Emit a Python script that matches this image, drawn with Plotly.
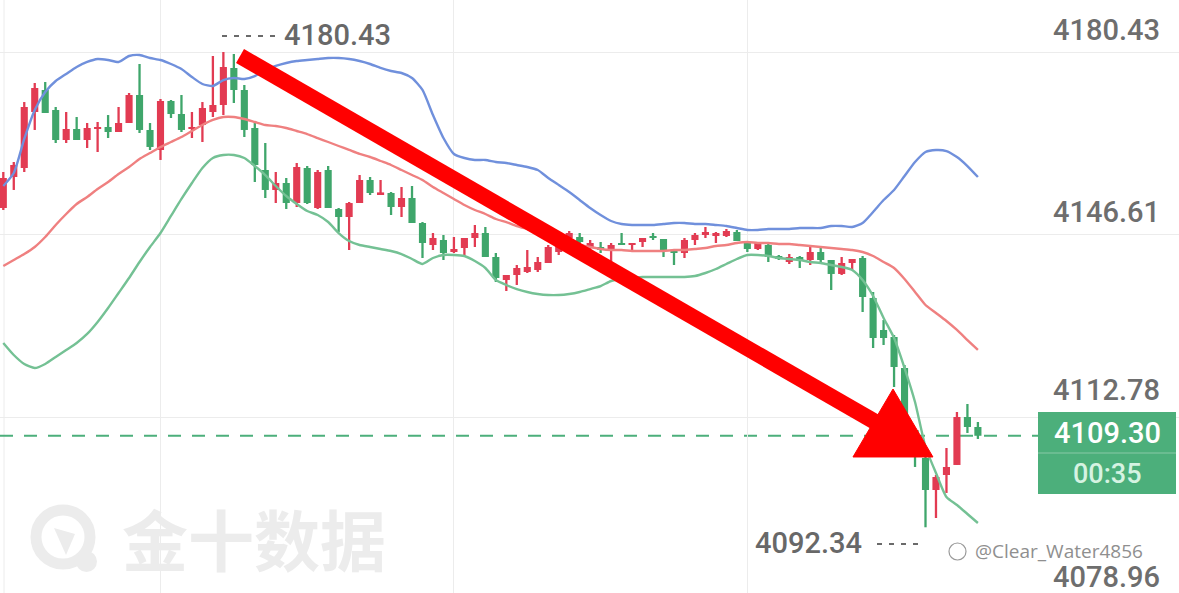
import plotly.graph_objects as go

W, H = 1179, 593

# ---------------- data ----------------
idx = list(range(94))

open_ = [4151.52, 4157.26, 4158.93, 4169.31, 4173.39, 4169.68, 4164.12, 4166.16, 4164.12, 4166.16,
         4166.53, 4165.60, 4167.27, 4172.46, 4165.98, 4162.27, 4171.35, 4168.94, 4166.16, 4166.90,
         4169.31, 4170.61, 4177.47, 4173.39, 4166.35, 4158.56, 4154.86, 4156.15, 4152.44, 4158.93,
         4151.52, 4158.56, 4151.33, 4149.85, 4152.44, 4156.71, 4154.11, 4154.30, 4151.70, 4153.37,
         4148.74, 4144.66, 4145.59, 4143.36, 4144.10, 4145.96, 4146.88, 4142.44, 4138.17, 4139.10,
         4139.66, 4140.03, 4141.32, 4143.36, 4145.96, 4146.14, 4144.10, 4144.29, 4143.92, 4145.03,
         4144.66, 4145.22, 4146.33, 4145.77, 4143.73, 4143.18, 4145.59, 4146.51, 4146.33, 4146.33,
         4147.07, 4145.03, 4143.92, 4144.66, 4142.62, 4141.51, 4142.44, 4141.88, 4143.36, 4141.88,
         4139.29, 4141.32, 4142.25, 4134.84, 4128.91, 4127.61, 4121.86, 4110.37, 4105.18, 4099.25,
         4102.03, 4103.89, 4112.78, 4110.93]

close_ = [4157.08, 4159.49, 4170.24, 4173.76, 4169.13, 4164.12, 4166.16, 4164.12, 4166.35, 4166.53,
          4165.60, 4167.27, 4172.46, 4165.98, 4162.83, 4171.35, 4168.94, 4165.98, 4166.53, 4170.05,
          4170.61, 4177.65, 4173.39, 4165.98, 4159.49, 4154.86, 4156.15, 4152.44, 4159.12, 4152.44,
          4158.19, 4151.52, 4149.85, 4152.44, 4156.71, 4154.30, 4154.30, 4151.70, 4153.37, 4148.74,
          4145.03, 4145.96, 4143.18, 4143.92, 4145.96, 4146.88, 4142.44, 4138.54, 4139.10, 4140.40,
          4140.58, 4141.51, 4144.29, 4144.66, 4146.88, 4145.22, 4145.03, 4143.73, 4144.66, 4144.66,
          4145.03, 4145.96, 4145.96, 4143.73, 4143.18, 4145.59, 4146.51, 4147.07, 4146.88, 4147.26,
          4145.40, 4143.92, 4145.03, 4142.44, 4142.07, 4142.44, 4141.88, 4143.36, 4141.88, 4139.29,
          4141.32, 4142.07, 4135.02, 4127.42, 4127.42, 4122.05, 4113.15, 4105.74, 4099.25, 4101.66,
          4103.52, 4112.78, 4110.93, 4109.30]

high_ = [4158.19, 4160.04, 4171.16, 4174.69, 4174.87, 4170.24, 4169.31, 4168.38, 4167.27, 4167.46,
         4168.75, 4170.24, 4172.83, 4178.21, 4167.27, 4171.72, 4171.54, 4172.46, 4169.31, 4171.16,
         4179.69, 4180.43, 4180.06, 4174.32, 4167.27, 4163.57, 4158.19, 4157.08, 4159.86, 4159.30,
         4158.56, 4159.30, 4151.52, 4152.63, 4157.63, 4157.26, 4156.71, 4154.48, 4155.41, 4155.60,
         4148.92, 4146.88, 4146.51, 4146.14, 4145.96, 4148.37, 4148.00, 4143.18, 4139.10, 4140.95,
         4143.73, 4142.44, 4144.66, 4145.40, 4147.26, 4146.88, 4145.59, 4145.22, 4145.03, 4146.88,
         4145.03, 4145.96, 4146.88, 4145.77, 4143.73, 4145.96, 4146.88, 4148.00, 4147.07, 4147.63,
         4147.44, 4145.22, 4145.22, 4145.03, 4142.81, 4142.99, 4142.62, 4144.29, 4144.10, 4141.88,
         4142.44, 4142.07, 4142.62, 4135.95, 4130.76, 4127.98, 4122.42, 4110.74, 4105.74, 4102.03,
         4107.04, 4113.71, 4115.19, 4111.86]

low_ = [4151.15, 4154.86, 4158.19, 4165.98, 4169.13, 4163.57, 4163.57, 4164.12, 4162.64, 4161.90,
        4164.49, 4165.60, 4167.27, 4165.42, 4162.27, 4160.42, 4168.20, 4165.60, 4164.49, 4163.75,
        4168.38, 4168.75, 4170.98, 4164.68, 4156.34, 4153.37, 4152.44, 4151.33, 4151.70, 4152.26,
        4151.33, 4151.52, 4147.07, 4143.73, 4152.44, 4153.93, 4153.93, 4150.22, 4149.85, 4148.74,
        4142.25, 4143.73, 4141.88, 4143.18, 4142.44, 4144.29, 4142.44, 4137.80, 4136.13, 4137.25,
        4139.47, 4139.66, 4141.32, 4142.81, 4145.22, 4144.66, 4143.73, 4143.18, 4141.51, 4144.66,
        4143.73, 4144.29, 4145.59, 4142.44, 4140.95, 4142.25, 4144.66, 4145.96, 4145.03, 4146.14,
        4145.40, 4143.36, 4143.73, 4141.51, 4141.88, 4141.14, 4140.40, 4140.95, 4141.51, 4136.32,
        4139.10, 4140.03, 4132.24, 4125.57, 4126.13, 4118.34, 4112.23, 4103.52, 4092.34, 4094.06,
        4098.70, 4103.89, 4109.82, 4108.71]

boll_upper = [4155.60, 4158.00, 4164.31, 4169.68, 4173.02, 4175.06, 4176.36, 4177.65, 4178.58, 4179.14,
              4178.95, 4178.58, 4179.69, 4179.88, 4179.32, 4178.95, 4178.21, 4177.28, 4175.80, 4174.50,
              4174.13, 4175.24, 4175.61, 4175.43, 4175.98, 4177.10, 4177.84, 4178.39, 4178.76, 4178.95,
              4179.14, 4179.32, 4179.32, 4179.14, 4178.76, 4178.21, 4177.47, 4176.91, 4176.54, 4175.61,
              4173.39, 4168.75, 4164.49, 4161.53, 4160.79, 4160.42, 4160.42, 4160.04, 4159.86, 4159.49,
              4159.12, 4158.56, 4157.08, 4155.78, 4154.48, 4153.00, 4151.52, 4150.22, 4149.11, 4148.55,
              4148.37, 4148.37, 4148.37, 4148.55, 4148.74, 4148.74, 4148.55, 4148.55, 4148.37, 4148.18,
              4147.81, 4147.44, 4147.44, 4147.63, 4147.63, 4147.63, 4147.81, 4147.81, 4147.81, 4148.18,
              4148.18, 4148.00, 4148.74, 4150.78, 4153.00, 4154.86, 4157.45, 4160.04, 4161.90, 4162.27,
              4162.08, 4160.97, 4159.30, 4157.26]

boll_mid = [4140.77, 4141.88, 4142.99, 4144.29, 4146.14, 4148.37, 4150.41, 4152.26, 4153.56, 4155.04,
            4156.34, 4157.82, 4159.12, 4160.60, 4161.71, 4162.83, 4163.75, 4164.68, 4165.79, 4166.90,
            4167.83, 4168.38, 4168.38, 4168.01, 4167.46, 4166.90, 4166.72, 4166.35, 4165.79, 4165.23,
            4164.49, 4163.75, 4163.01, 4162.27, 4161.53, 4160.97, 4160.23, 4159.49, 4158.56, 4157.63,
            4156.71, 4155.41, 4154.30, 4153.19, 4152.07, 4151.15, 4150.41, 4149.48, 4148.92, 4148.18,
            4147.63, 4147.07, 4146.51, 4145.96, 4145.40, 4144.66, 4144.29, 4143.92, 4143.73, 4143.73,
            4143.55, 4143.55, 4143.55, 4143.55, 4143.73, 4143.73, 4143.92, 4144.10, 4144.47, 4144.66,
            4145.03, 4145.22, 4145.03, 4145.03, 4144.85, 4144.85, 4144.66, 4144.47, 4144.29, 4144.10,
            4143.92, 4143.73, 4143.36, 4142.62, 4141.51, 4140.40, 4138.36, 4135.95, 4133.54, 4132.06,
            4130.57, 4128.91, 4127.05, 4125.20]

boll_lower = [4126.50, 4124.27, 4122.61, 4121.86, 4122.61, 4123.90, 4125.20, 4126.50, 4128.17, 4130.39,
              4132.98, 4135.76, 4138.54, 4141.51, 4144.29, 4146.88, 4150.04, 4153.19, 4156.15, 4158.93,
              4160.79, 4161.34, 4161.34, 4160.79, 4159.30, 4157.63, 4155.60, 4153.74, 4152.26, 4150.96,
              4150.22, 4148.92, 4146.88, 4145.40, 4144.66, 4144.29, 4143.92, 4143.55, 4142.99, 4142.07,
              4141.14, 4142.25, 4142.81, 4142.81, 4142.62, 4141.69, 4140.40, 4138.17, 4137.25, 4136.50,
              4135.95, 4135.58, 4135.39, 4135.39, 4135.58, 4135.95, 4136.50, 4137.06, 4137.99, 4138.36,
              4138.54, 4138.73, 4138.73, 4138.73, 4138.73, 4138.73, 4138.91, 4139.47, 4140.21, 4141.14,
              4142.07, 4142.81, 4142.81, 4142.62, 4142.25, 4142.07, 4141.88, 4141.51, 4141.32, 4140.95,
              4140.58, 4140.03, 4138.17, 4135.21, 4131.13, 4127.42, 4121.86, 4115.56, 4107.22, 4102.41,
              4097.96, 4096.47, 4094.80, 4093.14]

y_tick_values = [4180.43, 4146.61, 4112.78, 4078.96]
y_tick_labels = ["4180.43", "4146.61", "4112.78", "4078.96"]
x_grid_values = [15, 43, 71]
last_price = 4109.30
last_price_label = "4109.30"
countdown_label = "00:35"
high_label = "4180.43"
low_label = "4092.34"
watermark_text = "金十数据"
credit_text = "@Clear_Water4856"

# hand-drawn arrow annotation (data units)
arrow_shaft = [(22.59, 4179.69), (84.04, 4110.93)]
arrow_head = [(81.08, 4105.37), (84.90, 4117.97), (88.71, 4105.37)]

# ---------------- styles ----------------
RED = "#e23b52"
GREEN = "#3fa66b"
BLUE_BAND = "#7090dc"
MID_BAND = "#ef8080"
LOW_BAND = "#74c194"
GRID = "#ececec"
LABEL = "#6e6e6e"
BOX = "#4caf7b"
FONT = "Roboto"
X_RANGE = [-0.315, 112.19]
Y_RANGE = [4080.16, 4190.07]


def fx(p):
    return p / W


def fy(p):
    return 1 - p / H


fig = go.Figure()

# Bollinger bands
for vals, col in [(boll_upper, BLUE_BAND), (boll_mid, MID_BAND), (boll_lower, LOW_BAND)]:
    fig.add_trace(go.Scatter(x=idx, y=vals, mode="lines",
                             line=dict(color=col, width=2.4, shape="spline", smoothing=0.6),
                             hoverinfo="skip", showlegend=False))

# candles
up = [c >= o for o, c in zip(open_, close_)]
for is_up, col in [(True, RED), (False, GREEN)]:
    xs = [i for i in idx if up[i] == is_up]
    fig.add_trace(go.Bar(x=xs, base=[low_[i] for i in xs],
                         y=[high_[i] - low_[i] for i in xs],
                         width=0.22, marker=dict(color=col, line=dict(width=0)),
                         hoverinfo="skip", showlegend=False))
    fig.add_trace(go.Bar(x=xs, base=[min(open_[i], close_[i]) for i in xs],
                         y=[max(abs(close_[i] - open_[i]), 0.3) for i in xs],
                         width=0.68, marker=dict(color=col, line=dict(width=0)),
                         hoverinfo="skip", showlegend=False))

shapes = []
# faint left border line
shapes.append(dict(type="line", xref="paper", yref="paper", x0=fx(4), x1=fx(4), y0=0, y1=1,
                   line=dict(color=GRID, width=1), layer="below"))
# last price dashed line
shapes.append(dict(type="line", xref="paper", yref="y", x0=0, x1=fx(1038),
                   y0=last_price, y1=last_price,
                   line=dict(color=BOX, width=2, dash="13px,11px"), layer="below"))
# arrow
shapes.append(dict(type="line", xref="x", yref="y",
                   x0=arrow_shaft[0][0], y0=arrow_shaft[0][1],
                   x1=arrow_shaft[1][0], y1=arrow_shaft[1][1],
                   line=dict(color="#ff0000", width=16)))
path = "M {},{} L {},{} L {},{} Z".format(*[v for pt in arrow_head for v in pt])
shapes.append(dict(type="path", xref="x", yref="y", path=path,
                   fillcolor="#ff0000", line=dict(color="#ff0000", width=1)))
# price box
shapes.append(dict(type="rect", xref="paper", yref="paper", x0=fx(1038), x1=fx(1176),
                   y0=fy(494), y1=fy(412), fillcolor=BOX, line=dict(width=0)))
shapes.append(dict(type="line", xref="paper", yref="paper", x0=fx(1038), x1=fx(1176),
                   y0=fy(453), y1=fy(453), line=dict(color="rgba(255,255,255,0.35)", width=1)))
# high / low marker dashes
shapes.append(dict(type="line", xref="paper", yref="paper", x0=fx(222), x1=fx(276),
                   y0=fy(36), y1=fy(36), line=dict(color="#6a6a6a", width=2, dash="5px,7px")))
shapes.append(dict(type="line", xref="paper", yref="paper", x0=fx(877), x1=fx(921),
                   y0=fy(544), y1=fy(544), line=dict(color="#6a6a6a", width=2, dash="5px,7px")))
# watermark logo
shapes.append(dict(type="circle", xref="paper", yref="paper", x0=fx(36), x1=fx(90),
                   y0=fy(564), y1=fy(510), line=dict(color="#ececec", width=11), layer="below"))
shapes.append(dict(type="circle", xref="paper", yref="paper", x0=fx(76), x1=fx(97),
                   y0=fy(572), y1=fy(551), fillcolor="#ececec", line=dict(width=0), layer="below"))
shapes.append(dict(type="path", xref="paper", yref="paper",
                   path="M {},{} L {},{} L {},{} Z".format(fx(54), fy(528), fx(75), fy(534), fx(66), fy(555)),
                   fillcolor="#ececec", line=dict(width=0), layer="below"))
# weibo icon
shapes.append(dict(type="circle", xref="paper", yref="paper", x0=fx(949), x1=fx(966),
                   y0=fy(560), y1=fy(543), line=dict(color="#9a9a9a", width=1.2)))

annotations = []
label_y = [30, 212, 390, 577]
for lab, py in zip(y_tick_labels, label_y):
    annotations.append(dict(text=lab, xref="paper", yref="paper", x=fx(1162), y=fy(py),
                            xanchor="right", yanchor="middle", showarrow=False,
                            font=dict(family=FONT, size=29, color=LABEL, weight=500)))
annotations.append(dict(text=high_label, xref="paper", yref="paper", x=fx(282), y=fy(35),
                        xanchor="left", yanchor="middle", showarrow=False,
                        font=dict(family=FONT, size=29, color="#686868", weight=500)))
annotations.append(dict(text=low_label, xref="paper", yref="paper", x=fx(864), y=fy(543),
                        xanchor="right", yanchor="middle", showarrow=False,
                        font=dict(family=FONT, size=29, color="#686868", weight=500)))
annotations.append(dict(text=last_price_label, xref="paper", yref="paper", x=fx(1107), y=fy(433),
                        xanchor="center", yanchor="middle", showarrow=False,
                        font=dict(family=FONT, size=29, color="#ffffff", weight=500)))
annotations.append(dict(text=countdown_label, xref="paper", yref="paper", x=fx(1107), y=fy(474),
                        xanchor="center", yanchor="middle", showarrow=False,
                        font=dict(family=FONT, size=27, color="#d6f3e2", weight=500)))
annotations.append(dict(text="<b>" + watermark_text + "</b>", xref="paper", yref="paper",
                        x=fx(120), y=fy(537), xanchor="left", yanchor="middle", showarrow=False,
                        font=dict(family="Noto Sans CJK SC", size=66, color="#ececec")))
annotations.append(dict(text=credit_text, xref="paper", yref="paper", x=fx(973), y=fy(551),
                        xanchor="left", yanchor="middle", showarrow=False,
                        font=dict(family="Open Sans", size=19, color="#8f8f8f")))

fig.update_layout(
    width=W, height=H,
    margin=dict(l=0, r=0, t=0, b=0),
    paper_bgcolor="white", plot_bgcolor="white",
    barmode="overlay",
    showlegend=False,
    shapes=shapes,
    annotations=annotations,
    xaxis=dict(range=X_RANGE, tickvals=x_grid_values, showticklabels=False,
               showgrid=True, gridcolor=GRID, gridwidth=1, zeroline=False,
               showline=False, fixedrange=True),
    yaxis=dict(range=Y_RANGE, tickvals=y_tick_values, showticklabels=False,
               showgrid=True, gridcolor=GRID, gridwidth=1, zeroline=False,
               showline=False, fixedrange=True),
)

fig.write_html("out.html", config={"displayModeBar": False})
